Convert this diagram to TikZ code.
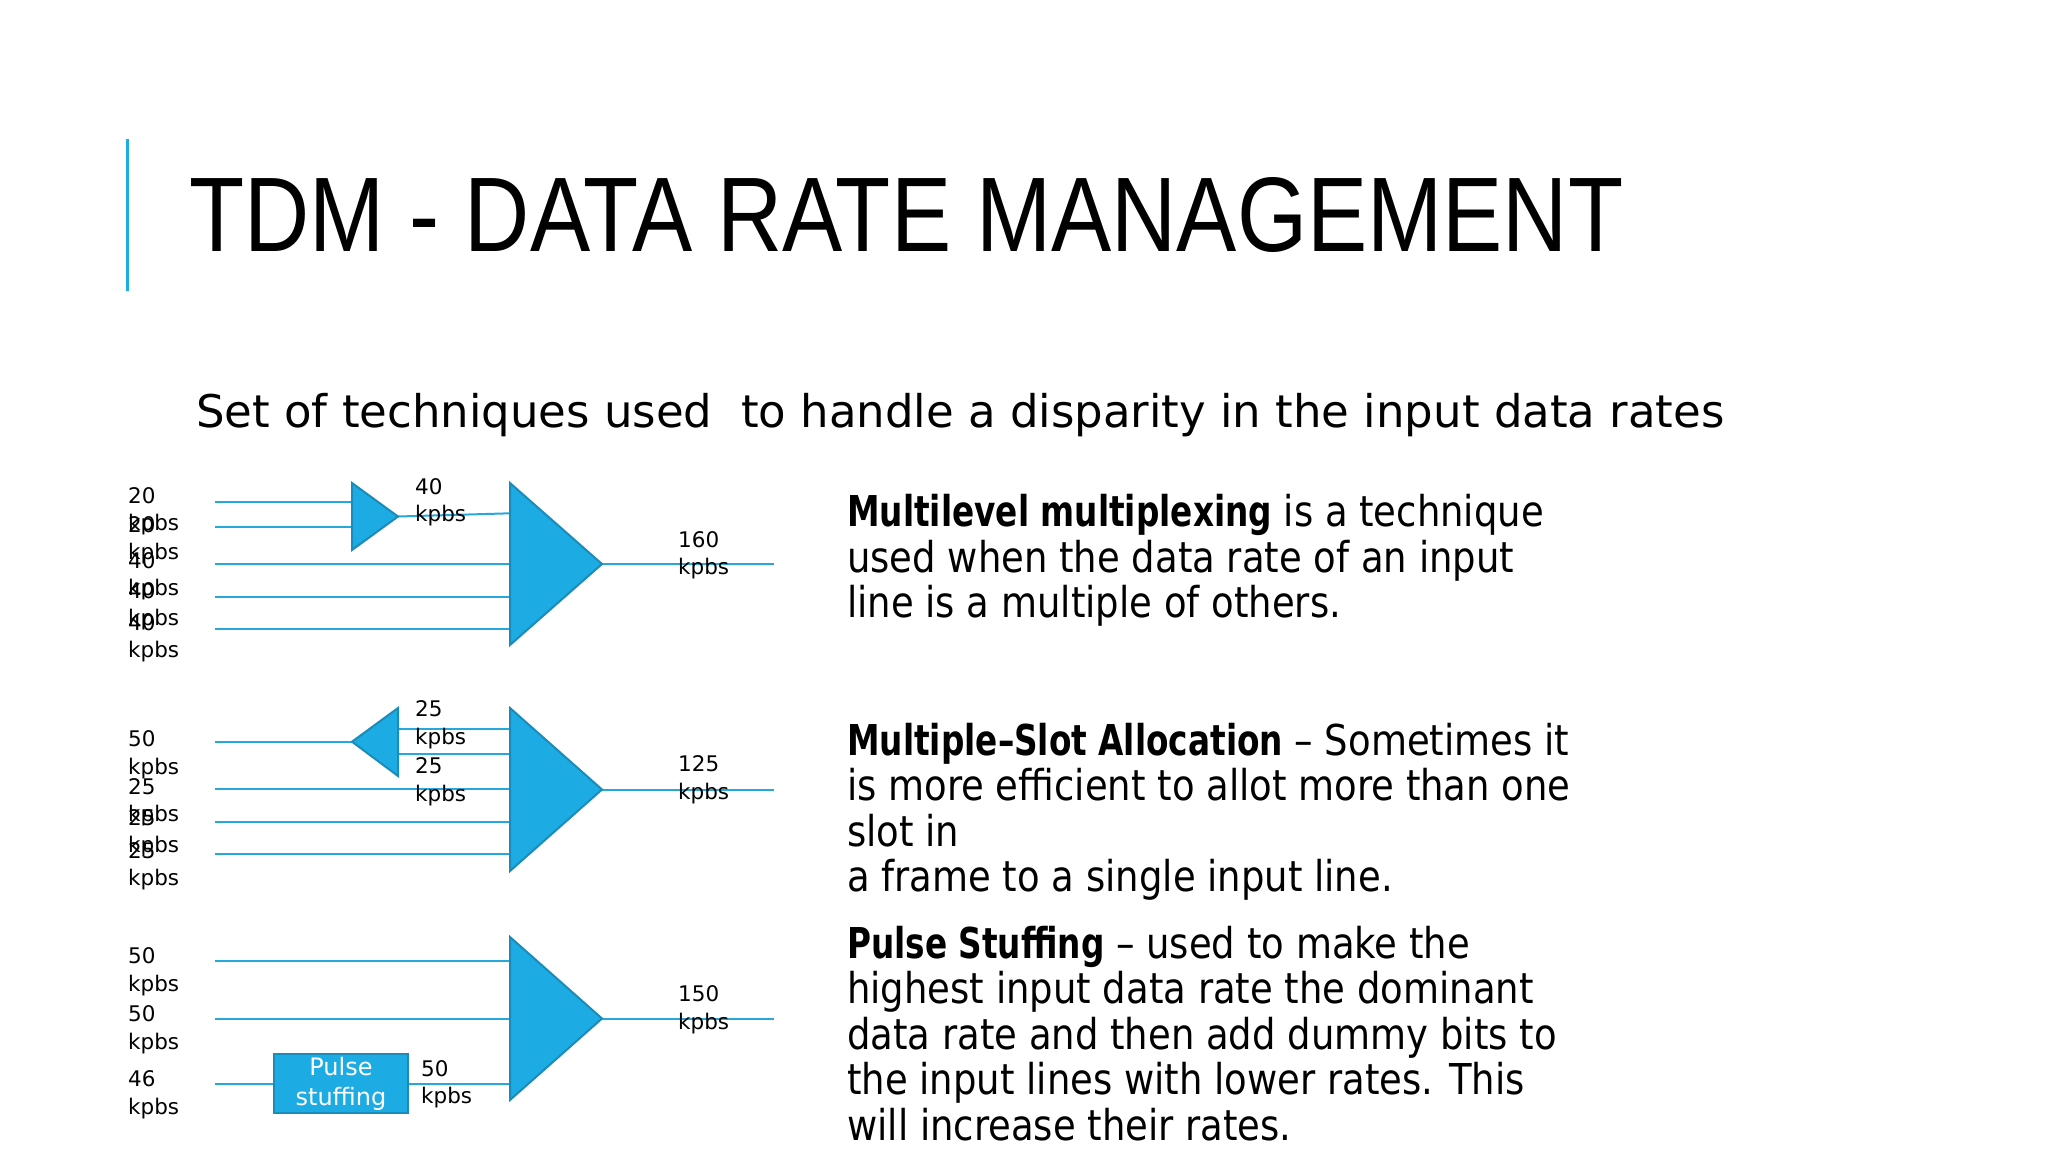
\documentclass[tikz,border=0pt]{standalone}
\usepackage{graphicx}
\usepackage{fontspec}
\setmainfont{DejaVu Sans}
\newfontfamily\bodyfont[FakeStretch=0.87]{DejaVu Sans}
\newfontfamily\boldbodyfont[FakeStretch=0.77]{DejaVu Sans}
\newfontfamily\subfont{DejaVu Sans}
\newfontfamily\titlefont{Liberation Sans}
\newfontfamily\lblfont{DejaVu Sans}
\newcommand{\lead}[1]{{\boldbodyfont\bfseries #1}}
\definecolor{lineblue}{HTML}{27A8DC}
\definecolor{muxfill}{HTML}{1CABE2}
\definecolor{muxedge}{HTML}{1B8CBA}
\definecolor{barblue}{HTML}{1CADE4}
\tikzset{
 sig/.style={draw=lineblue, line width=2pt},
 muxshape/.style={fill=muxfill, draw=muxedge, line width=2pt, line join=miter},
 lbl/.style={anchor=base west, inner sep=0pt, font=\lblfont\fontsize{21.5}{27.8}\selectfont},
 para/.style={anchor=base west, inner sep=0pt, font=\bodyfont\fontsize{42.5}{45.5}\selectfont},
 stuffbox/.style={fill=muxfill, draw=muxedge, line width=2pt, minimum width=134pt, minimum height=59pt, inner sep=0pt, text=white, align=center, font=\lblfont\fontsize{24}{30}\selectfont}
}
\newcommand{\twoline}[2]{\vtop{\hbox{#1}\hbox{#2}}}
\begin{document}
\begin{tikzpicture}[x=1pt,y=-1pt]
\useasboundingbox (0,0) rectangle (2048,1152);
\fill[white] (0,0) rectangle (2048,1152);
% title
\draw[barblue, line width=3pt] (127.5,139) -- (127.5,291);
\node[anchor=base west, inner sep=0pt] (title) at (189,251.7)
  {\resizebox{1434pt}{\height}{\titlefont\fontsize{106}{110}\selectfont TDM - DATA RATE MANAGEMENT}};
\node[anchor=base west, inner sep=0pt, font=\subfont\fontsize{45}{50}\selectfont] (sub) at (196,427.3)
  {Set of techniques used \ to handle a disparity in the input data rates};
% paragraphs
\node[para] (p1) at (847,526.5) {\vtop{%
  \hbox{\lead{Multilevel multiplexing} is a technique}%
  \hbox{used when the data rate of an input}%
  \hbox{line is a multiple of others.}}};
\node[para] (p2) at (847,755) {\vtop{%
  \hbox{\lead{Multiple–Slot Allocation} – Sometimes it}%
  \hbox{is more efficient to allot more than one}%
  \hbox{slot in}%
  \hbox{a frame to a single input line.}}};
\node[para] (p3) at (847,958) {\vtop{%
  \hbox{\lead{Pulse Stuffing} – used to make the}%
  \hbox{highest input data rate the dominant}%
  \hbox{data rate and then add dummy bits to}%
  \hbox{the input lines with lower rates. This}%
  \hbox{will increase their rates.}}};

% ---------- diagram 1 ----------
\coordinate (a1) at (215,501.7);
\coordinate (a2) at (215,526.7);
\coordinate (a3) at (215,564.3);
\coordinate (a4) at (215,596.7);
\coordinate (a5) at (215,629.3);
\coordinate (s1a) at (352,501.7);
\coordinate (s1b) at (352,526.7);
\coordinate (s1o) at (398,516.5);
\coordinate (m1a) at (510,513.3);
\coordinate (m1c) at (510,564.3);
\coordinate (m1d) at (510,596.7);
\coordinate (m1e) at (510,629.3);
\coordinate (m1o) at (602,564);
\coordinate (o1) at (774,564);
\draw[sig] (a1) -- (s1a);
\draw[sig] (a2) -- (s1b);
\draw[sig] (s1o) -- (m1a);
\draw[sig] (a3) -- (m1c);
\draw[sig] (a4) -- (m1d);
\draw[sig] (a5) -- (m1e);
\draw[sig] (m1o) -- (o1);
\draw[muxshape] (352,483) -- (398,516.5) -- (352,550) -- cycle;
\draw[muxshape] (510,483) -- (602,564) -- (510,645) -- cycle;
\node[lbl] (l1a) at (128,503) {\twoline{20}{kpbs}};
\node[lbl] (l1b) at (128,532) {\twoline{20}{kpbs}};
\node[lbl] (l1c) at (128,568) {\twoline{40}{kpbs}};
\node[lbl] (l1d) at (128,598) {\twoline{40}{kpbs}};
\node[lbl] (l1e) at (128,630) {\twoline{40}{kpbs}};
\node[lbl] (l1m) at (415,494) {\twoline{40}{kpbs}};
\node[lbl] (l1o) at (678,547) {\twoline{160}{kpbs}};

% ---------- diagram 2 ----------
\coordinate (b1) at (215,741.7);
\coordinate (s2o) at (352,741.7);
\coordinate (s2a) at (398,729);
\coordinate (s2b) at (398,754.3);
\coordinate (m2a) at (510,729);
\coordinate (m2b) at (510,754.3);
\coordinate (b3) at (215,789.3);
\coordinate (b4) at (215,822.3);
\coordinate (b5) at (215,854.3);
\coordinate (m2c) at (510,789.3);
\coordinate (m2d) at (510,822.3);
\coordinate (m2e) at (510,854.3);
\coordinate (m2o) at (602,789.5);
\coordinate (o2) at (774,789.5);
\draw[sig] (b1) -- (s2o);
\draw[sig] (s2a) -- (m2a);
\draw[sig] (s2b) -- (m2b);
\draw[sig] (b3) -- (m2c);
\draw[sig] (b4) -- (m2d);
\draw[sig] (b5) -- (m2e);
\draw[sig] (m2o) -- (o2);
\draw[muxshape] (398,708) -- (352,741.7) -- (398,776) -- cycle;
\draw[muxshape] (510,708) -- (602,789.5) -- (510,871) -- cycle;
\node[lbl] (l2a) at (128,746.7) {\twoline{50}{kpbs}};
\node[lbl] (l2b) at (128,794) {\twoline{25}{kpbs}};
\node[lbl] (l2c) at (128,825) {\twoline{25}{kpbs}};
\node[lbl] (l2d) at (128,858) {\twoline{25}{kpbs}};
\node[lbl] (l2m1) at (415,716.7) {\twoline{25}{kpbs}};
\node[lbl] (l2m2) at (415,773.3) {\twoline{25}{kpbs}};
\node[lbl] (l2o) at (678,771.7) {\twoline{125}{kpbs}};

% ---------- diagram 3 ----------
\coordinate (c1) at (215,960.7);
\coordinate (c2) at (215,1019);
\coordinate (c3) at (215,1083.7);
\coordinate (m3a) at (510,960.7);
\coordinate (m3b) at (510,1019);
\coordinate (m3c) at (510,1083.7);
\coordinate (m3o) at (602,1018.5);
\coordinate (o3) at (774,1018.5);
\node[stuffbox] (ps) at (341,1083.7) {Pulse\\stuffing};
\draw[sig] (c1) -- (m3a);
\draw[sig] (c2) -- (m3b);
\draw[sig] (c3) -- (ps.west);
\draw[sig] (ps.east) -- (m3c);
\draw[sig] (m3o) -- (o3);
\draw[muxshape] (510,937) -- (602,1018.5) -- (510,1100) -- cycle;
\node[lbl] (l3a) at (128,963.3) {\twoline{50}{kpbs}};
\node[lbl] (l3b) at (128,1021.7) {\twoline{50}{kpbs}};
\node[lbl] (l3c) at (128,1086.7) {\twoline{46}{kpbs}};
\node[lbl] (l3m) at (421,1076) {\twoline{50}{kpbs}};
\node[lbl] (l3o) at (678,1001.7) {\twoline{150}{kpbs}};
\end{tikzpicture}
\end{document}
